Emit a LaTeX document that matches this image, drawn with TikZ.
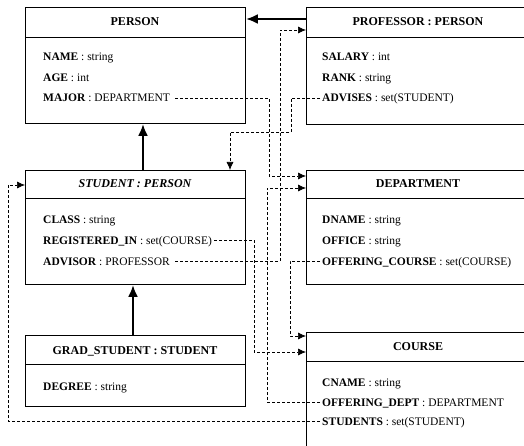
\documentclass[tikz,border=0pt]{standalone}
\usepackage{fontspec}
\setmainfont{Liberation Serif}
\usetikzlibrary{arrows.meta,positioning}

\tikzset{
  cls/.style={draw,line width=0.9pt,rectangle,anchor=north west,inner sep=0pt},
  ttl/.style={inner sep=0pt,text height=8pt,text depth=0pt,font=\fontsize{12}{12}\selectfont\bfseries},
  att/.style={anchor=west,inner xsep=2pt,inner ysep=0pt,text height=8pt,text depth=0pt,font=\fontsize{11.5}{12}\selectfont},
  isa/.style={line width=2.4pt,-{Latex[length=12pt,width=10pt]}},
  ref/.style={line width=0.7pt,dash pattern=on 3pt off 2pt,-{Latex[length=8pt,width=7pt]}}
}

\begin{document}
\begin{tikzpicture}[x=1pt,y=-1pt]
        \useasboundingbox (0,0) rectangle (524,446);
        \clip (0,0) rectangle (524,446);
        % classes
        \node[cls,minimum width=220pt,minimum height=116pt] (person) at (25,7) {};
        \node[cls,minimum width=225pt,minimum height=117pt] (prof) at (306,7) {};
        \node[cls,minimum width=220pt,minimum height=114pt] (student) at (25,170) {};
        \node[cls,minimum width=225pt,minimum height=114pt] (dept) at (306,170) {};
        \node[cls,minimum width=220pt,minimum height=71pt] (grad) at (25,335) {};
        \node[cls,minimum width=225pt,minimum height=120pt] (course) at (306,332) {};
        \draw[line width=0.9pt] ([yshift=-30pt]person.north west) -- ([yshift=-30pt]person.north east);
        \draw[line width=0.9pt] ([yshift=-30pt]prof.north west) -- ([yshift=-30pt]prof.north east);
        \draw[line width=0.9pt] ([yshift=-28pt]student.north west) -- ([yshift=-28pt]student.north east);
        \draw[line width=0.9pt] ([yshift=-28pt]dept.north west) -- ([yshift=-28pt]dept.north east);
        \draw[line width=0.9pt] ([yshift=-29pt]grad.north west) -- ([yshift=-29pt]grad.north east);
        \draw[line width=0.9pt] ([yshift=-29pt]course.north west) -- ([yshift=-29pt]course.north east);
        % titles
        \node[ttl] (personT) at (135,22) {PERSON};
        \node[ttl] (profT) at (418,22) {PROFESSOR : PERSON};
        \node[ttl] (studentT) at (135,184) {\itshape STUDENT : PERSON};
        \node[ttl] (deptT) at (418,184) {DEPARTMENT};
        \node[ttl] (gradT) at (135,350) {GRAD\_STUDENT : STUDENT};
        \node[ttl] (courseT) at (418,346) {COURSE};
        % attributes
        \node[att] (name) at (41,57) {\textbf{NAME} : string};
        \node[att] (age) at (41,78) {\textbf{AGE} : int};
        \node[att] (major) at (41,98) {\textbf{MAJOR} : DEPARTMENT};
        \node[att] (salary) at (320,57) {\textbf{SALARY} : int};
        \node[att] (rank) at (320,78) {\textbf{RANK} : string};
        \node[att] (advises) at (320,98) {\textbf{ADVISES} : set(STUDENT)};
        \node[att] (class) at (41,219) {\textbf{CLASS} : string};
        \node[att] (regin) at (41,240) {\textbf{REGISTERED\_IN} : set(COURSE)};
        \node[att] (advisor) at (41,261) {\textbf{ADVISOR} : PROFESSOR};
        \node[att] (dname) at (320,219) {\textbf{DNAME} : string};
        \node[att] (office) at (320,240) {\textbf{OFFICE} : string};
        \node[att] (offc) at (320,261) {\textbf{OFFERING\_COURSE} : set(COURSE)};
        \node[att] (degree) at (41,386) {\textbf{DEGREE} : string};
        \node[att] (cname) at (320,382) {\textbf{CNAME} : string};
        \node[att] (offd) at (320,402) {\textbf{OFFERING\_DEPT} : DEPARTMENT};
        \node[att] (students) at (320,421) {\textbf{STUDENTS} : set(STUDENT)};
        % inheritance
        \draw[isa] ([yshift=-12pt]prof.north west) -- ([yshift=-12pt]person.north east);
        \draw[isa] ([xshift=118pt]student.north west) -- ([xshift=118pt]person.south west);
        \draw[isa] ([xshift=108pt]grad.north west) -- ([xshift=108pt]student.south west);
        % references
        \draw[ref] ([xshift=3pt]major.east) -| (269,176) -- ([yshift=-6pt]dept.north west);
        \draw[ref] (advises.west) -| (291,132) -| ([xshift=205pt]student.north west);
        \draw[ref] ([xshift=3pt]advisor.east) -| (280,30) -- ([yshift=-23pt]prof.north west);
        \draw[ref] (regin.east) -| (254,352) -- ([yshift=-20pt]course.north west);
        \draw[ref] (offc.west) -| (290,336) -- ([yshift=-4pt]course.north west);
        \draw[ref] (offd.west) -| (267,188) -- ([yshift=-18pt]dept.north west);
        \draw[ref] (students.west) -| (8,185) -- ([yshift=-15pt]student.north west);
\end{tikzpicture}
\end{document}
